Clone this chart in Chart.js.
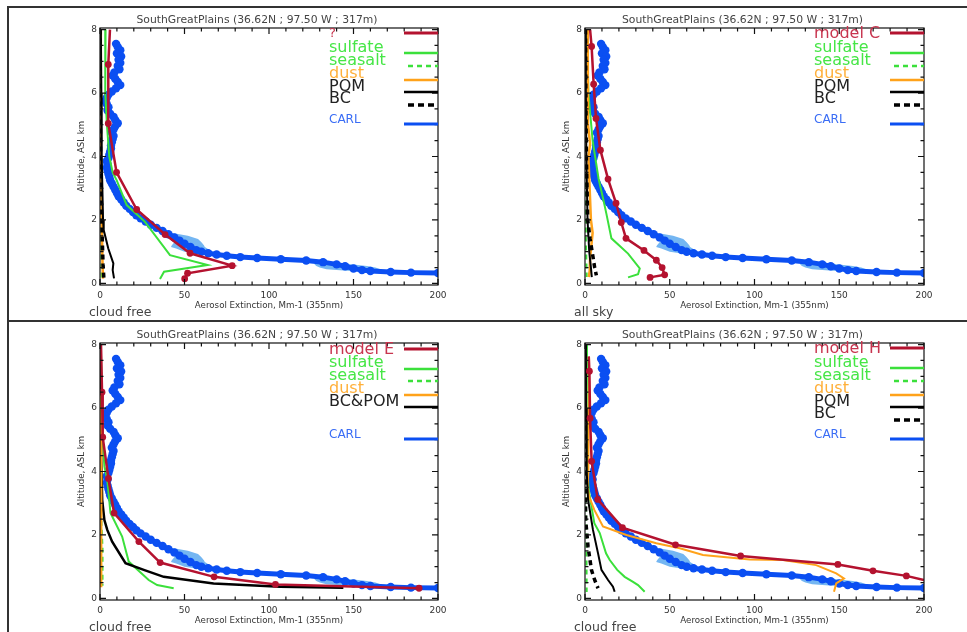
<!DOCTYPE html>
<html><head><meta charset="utf-8">
<script src="https://cdn.jsdelivr.net/npm/chart.js@4.4.1/dist/chart.umd.min.js"></script>
<style>
html,body{margin:0;padding:0;background:#fff;}
body{width:967px;height:632px;position:relative;overflow:hidden;}
canvas{position:absolute;}
.rule{position:absolute;background:#333;}
</style></head><body>
<div class="rule" style="left:7px;top:6px;width:960px;height:2px"></div>
<div class="rule" style="left:7px;top:6px;width:2px;height:626px"></div>
<div class="rule" style="left:7px;top:320px;width:960px;height:2px"></div>
<canvas id="c1" width="474" height="312" style="left:9px;top:8px"></canvas>
<canvas id="c2" width="483" height="312" style="left:484px;top:8px"></canvas>
<canvas id="c3" width="474" height="310" style="left:9px;top:322px"></canvas>
<canvas id="c4" width="483" height="310" style="left:484px;top:322px"></canvas>
<script>
// ---------- text ----------
const panelTitle = 'SouthGreatPlains (36.62N ; 97.50 W ; 317m)';
const xAxisTitle = 'Aerosol Extinction, Mm-1 (355nm)';
const yAxisTitle = 'Altitude, ASL km';
const conditions = ['cloud free', 'all sky', 'cloud free', 'cloud free'];
const xTickValues = [0, 50, 100, 150, 200];
const yTickValues = [0, 2, 4, 6, 8];
const xMinorStep = 10, yMinorStep = 0.5;

const legend1Labels = ['?', 'sulfate', 'seasalt', 'dust', 'POM', 'BC', 'CARL'];
const legend2Labels = ['model C', 'sulfate', 'seasalt', 'dust', 'POM', 'BC', 'CARL'];
const legend3Labels = ['model E', 'sulfate', 'seasalt', 'dust', 'BC&POM', 'CARL'];
const legend4Labels = ['model H', 'sulfate', 'seasalt', 'dust', 'POM', 'BC', 'CARL'];

// ---------- CARL lidar (same in all panels) ----------
const carlAlt = [7.55,7.45,7.35,7.25,7.15,7.05,6.95,6.85,6.75,6.65,6.55,6.45,6.35,6.25,6.15,6.05,5.95,5.85,5.75,5.65,5.55,5.45,5.35,5.25,5.15,5.05,4.95,4.85,4.75,4.65,4.55,4.45,4.35,4.25,4.15,4.05,3.95,3.85,3.75,3.65,3.55,3.45,3.35,3.25,3.15,3.05,2.95,2.85,2.75,2.65,2.55,2.45,2.35,2.25,2.15,2.05,1.95,1.85,1.75,1.65,1.55,1.45,1.35,1.25,1.15,1.05,1.0,0.95,0.91,0.87,0.83,0.8,0.76,0.72,0.67,0.6,0.54,0.47,0.42,0.39,0.36,0.34,0.33];
const carlExt = [9.5,10.5,12.0,10.0,12.5,11.0,12.0,10.5,11.5,8.5,7.5,9.0,10.5,12.0,9.5,7.0,5.0,4.0,3.0,4.0,5.0,4.5,6.0,8.0,9.0,10.5,9.0,8.0,7.0,8.0,7.5,7.0,6.5,6.5,6.0,5.5,5.0,4.0,4.5,4.0,4.5,5.0,5.5,6.0,7.0,8.0,9.0,10.0,11.0,12.5,14.0,15.5,17.5,19.5,21.5,24.0,27.0,30.0,33.5,37.0,40.5,44.0,47.0,50.0,53.5,57.0,60.0,64.0,69.0,75.0,83.0,93.0,107.0,122.0,132.0,140.0,145.0,150.0,155.0,160.0,172.0,184.0,200.0];
const carlBandAlt = [1.6,1.5,1.4,1.3,1.2,1.15,1.1,1.0,0.95,0.9,0.85,0.8,0.75,0.7,0.65,0.6,0.55,0.5,0.45,0.4,0.36];
const carlBandLow = [38,42,44,44,42.5,42,45,50,56,66,76,88,104,120,127,127,128,130,134,146,175];
const carlBandHigh = [42,52,58,60,61.5,62,63.5,65.5,70,76,86,100,118,132,140,150,158,163,166,168,190];

// ---------- panel 1 (?) cloud free ----------
const p1ModelExt = [5.9,4.9,4.9,9.8,21.7,38.5,53.3,78.2,51.8,50.1];
const p1ModelAlt = [8.0,6.9,5.04,3.5,2.33,1.54,0.95,0.56,0.32,0.15];
const p1SulfExt = [3.3,3.1,4.1,5.5,7.5,9.9,15.8,26.6,41.4,63.7,37.9,35.5];
const p1SulfAlt = [8.0,6.0,5.0,4.0,3.5,3.25,2.47,1.94,0.89,0.58,0.37,0.14];
const p1SaltExt = [0.2,0.2,0.4,0.8,1.0];
const p1SaltAlt = [8.0,4.0,2.0,0.6,0.15];
const p1DustExt = [0.3,0.5,1.0,1.5,1.8];
const p1DustAlt = [8.0,4.0,2.0,0.6,0.15];
const p1PomExt = [0.5,0.8,1.0,1.8,2.2,4.9,7.9,7.5,8.3];
const p1PomAlt = [8.0,6.0,4.0,2.0,1.68,1.1,0.63,0.42,0.16];
const p1BcExt = [0.0,0.3,1.0,1.8,2.3];
const p1BcAlt = [8.0,4.0,2.0,0.6,0.15];

// ---------- panel 2 (model C) all sky ----------
const p2ModelExt = [3.0,3.9,5.1,6.5,9.1,13.6,18.3,21.4,24.2,34.8,42.1,45.5,47.0,38.4];
const p2ModelAlt = [8.0,7.47,6.28,5.2,4.2,3.29,2.53,1.92,1.42,1.04,0.73,0.5,0.27,0.19];
const p2SulfExt = [1.2,2.0,4.5,8.0,10.9,12.6,15.6,25.4,32.3,31.3,25.4];
const p2SulfAlt = [8.0,6.0,4.5,3.3,2.62,2.2,1.42,0.94,0.47,0.29,0.19];
const p2SaltExt = [0.0,0.2,0.5,1.0];
const p2SaltAlt = [8.0,4.0,1.5,0.2];
const p2DustExt = [1.6,1.8,3.0,2.0,3.5,4.5,3.0,2.8,2.2];
const p2DustAlt = [8.0,5.0,4.4,4.0,2.0,1.6,0.8,0.4,0.2];
const p2PomExt = [0.3,0.5,0.8,1.5,2.5,3.5,4.0];
const p2PomAlt = [8.0,6.0,4.0,2.0,1.0,0.5,0.2];
const p2BcExt = [0.3,0.5,0.8,1.6,3.0,4.7,5.7,6.7];
const p2BcAlt = [8.0,6.0,4.0,2.0,1.4,0.84,0.5,0.25];

// ---------- panel 3 (model E) cloud free ----------
const p3ModelExt = [0.6,1.2,1.6,5.0,8.3,23.0,35.6,67.5,103.8,188.8];
const p3ModelAlt = [8.0,6.5,5.08,3.78,2.69,1.79,1.13,0.68,0.44,0.32];
const p3SulfExt = [0.5,1.5,2.6,4.3,6.2,13.1,17.0,28.8,33.8,43.6];
const p3SulfAlt = [8.0,5.0,4.16,3.74,2.69,1.95,1.16,0.58,0.42,0.32];
const p3SaltExt = [0.0,0.3,1.5,1.5];
const p3SaltAlt = [5.0,3.0,1.6,0.4];
const p3DustExt = [0.4,0.4];
const p3DustAlt = [6.5,0.35];
const p3BcPomExt = [0.4,0.4,0.6,1.3,2.6,4.3,7.2,15.1,25.9,37.7,67.2,106.6,144.0];
const p3BcPomAlt = [8.0,6.5,4.6,3.1,2.47,2.16,1.79,1.11,0.9,0.68,0.47,0.37,0.34];

// ---------- panel 4 (model H) cloud free ----------
const p4ModelExt = [2.2,2.6,3.0,3.9,7.5,22.1,53.4,91.8,149.2,169.9,189.6,200.0];
const p4ModelAlt = [7.63,7.16,5.68,4.32,3.12,2.23,1.69,1.34,1.07,0.87,0.71,0.58];
const p4SulfExt = [1.2,1.0,1.5,2.2,3.8,5.5,8.7,12.4,14.6,19.0,23.4,28.1,31.3,35.2];
const p4SulfAlt = [8.0,6.0,4.0,3.42,2.9,2.37,2.06,1.42,1.21,0.9,0.68,0.53,0.42,0.21];
const p4SaltExt = [0.0,0.3,0.8,1.0];
const p4SaltAlt = [8.0,4.0,2.0,0.2];
const p4DustExt = [2.4,2.2,2.0,1.6,2.4,5.5,10.6,24.4,42.1,55.9,69.6,97.2,116.7,136.4,148.2,152.8,148.2,146.9];
const p4DustAlt = [7.6,6.0,4.0,3.5,3.22,2.79,2.27,2.0,1.74,1.58,1.37,1.23,1.21,1.05,0.79,0.63,0.47,0.21];
const p4PomExt = [0.5,0.6,1.0,1.8,4.7,7.7,9.7,13.6,16.5,17.5];
const p4PomAlt = [8.0,6.0,4.0,3.11,2.16,1.42,0.9,0.58,0.37,0.21];
const p4BcExt = [0.0,0.1,0.2,0.4,1.8,3.8,5.7,7.7];
const p4BcAlt = [8.0,6.0,4.0,2.48,1.63,0.9,0.58,0.32];

// ---------- styles ----------
const FONT = '"DejaVu Sans", "Liberation Sans", sans-serif';
const RED = '#b4122f', GREEN = '#3be03b', ORANGE = '#ffa21a', BLACK = '#000000', BLUE = '#0b4ff2', BAND = '#74b6f2';
const TXT = {red:'#c8354f', green:'#46e646', orange:'#ffb03a', black:'#222222', blue:'#3a6df5'};

function pts(xs, ys){ return xs.map((v,i)=>({x:v, y:ys[i]})); }
function series(xs, ys, color, width, dash, markerR, skip){
  skip = skip || [];
  return {data:pts(xs,ys), showLine:true, borderColor:color, backgroundColor:color,
    borderWidth:width, borderDash:dash||[], fill:false,
    pointRadius: c => (markerR && !skip.includes(c.dataIndex) && !(skip.includes(-1) && c.dataIndex===xs.length-1)) ? markerR : 0,
    pointBorderWidth:0, pointBackgroundColor:color, pointHoverRadius:0};
}
function carlSets(){
  const poly = carlBandLow.map((v,i)=>({x:v, y:carlBandAlt[i]}))
    .concat(carlBandHigh.map((v,i)=>({x:v, y:carlBandAlt[i]})).reverse());
  poly.push({x:carlBandLow[0], y:carlBandAlt[0]});
  return [
    series(carlExt, carlAlt, BLUE, 5, null, 4.2),
    {data:poly, showLine:true, borderWidth:0, borderColor:BAND, backgroundColor:BAND, fill:'shape', pointRadius:0, tension:0}
  ];
}

const frameTicks = {
  id:'frameTicks',
  afterDraw(chart, args, opts){
    const {ctx, chartArea:a, scales:{x, y}} = chart;
    ctx.save();
    ctx.strokeStyle = '#111'; ctx.lineWidth = 1.2;
    ctx.strokeRect(a.left, a.top, a.right-a.left, a.bottom-a.top);
    ctx.beginPath();
    for (let v = x.min; v <= x.max + 1e-9; v += xMinorStep){
      const px = x.getPixelForValue(v);
      const len = (Math.abs(v % 50) < 1e-6) ? 6 : 3.5;
      ctx.moveTo(px, a.bottom); ctx.lineTo(px, a.bottom - len);
      ctx.moveTo(px, a.top); ctx.lineTo(px, a.top + len);
    }
    for (let v = 0; v <= 8 + 1e-9; v += yMinorStep){
      const py = y.getPixelForValue(v);
      const len = (Math.abs(v % 2) < 1e-6) ? 6 : 3.5;
      ctx.moveTo(a.left, py); ctx.lineTo(a.left + len, py);
      ctx.moveTo(a.right, py); ctx.lineTo(a.right - len, py);
    }
    ctx.stroke();
    // legend
    const lg = opts.items || [];
    ctx.textBaseline = 'middle'; ctx.textAlign = 'left';
    lg.forEach(it => {
      ctx.font = (it.size || 16) + 'px ' + FONT;
      ctx.fillStyle = it.text;
      ctx.fillText(it.label, a.left + 229, a.top + it.ty);
      ctx.beginPath();
      ctx.strokeStyle = it.color; ctx.lineWidth = it.w || 2.5;
      ctx.setLineDash(it.dash || []);
      ctx.moveTo(a.right - (it.dash ? 30 : 34), a.top + it.ly); ctx.lineTo(a.right, a.top + it.ly);
      ctx.stroke();
      ctx.setLineDash([]);
    });
    // condition label
    ctx.font = '12.5px ' + FONT; ctx.fillStyle = '#444';
    ctx.fillText(opts.cond, a.left - 11, a.bottom + 27.5);
    ctx.restore();
  }
};

function legendItems(labels){
  const ty7 = [6, 20, 33, 46, 59, 71, 92], ly7 = [5, 25, 38, 52, 64, 77, 96];
  const ty6 = [7, 20, 33, 46, 59, 92], ly6 = [6, 26, 38, 52, 64, 96];
  const st7 = [
    {text:TXT.red, color:RED, w:3},
    {text:TXT.green, color:GREEN},
    {text:TXT.green, color:GREEN, dash:[5,4]},
    {text:TXT.orange, color:ORANGE},
    {text:TXT.black, color:BLACK},
    {text:TXT.black, color:BLACK, dash:[6,4], w:3.5},
    {text:TXT.blue, color:BLUE, w:3, size:12}
  ];
  const st6 = [st7[0], st7[1], st7[2], st7[3], st7[4], st7[6]];
  const st = labels.length === 7 ? st7 : st6;
  const ty = labels.length === 7 ? ty7 : ty6;
  const ly = labels.length === 7 ? ly7 : ly6;
  return labels.map((l,i)=>Object.assign({label:l, ty:ty[i], ly:ly[i]}, st[i], (l==='?')?{size:13}:{}));
}

function makeChart(id, canvasBox, plot, datasets, legendLabels, cond){
  const YW = 24, XH = 26, TFS = 10.8, TPB = 1.8;
  const titleH = TFS * 1.2 + TPB;
  new Chart(document.getElementById(id), {
    type:'scatter',
    data:{datasets},
    options:{
      responsive:false, animation:false, devicePixelRatio:1,
      layout:{padding:{
        left: plot.L - canvasBox.left - YW,
        right: canvasBox.left + canvasBox.w - plot.R,
        top: plot.T - canvasBox.top - titleH,
        bottom: canvasBox.top + canvasBox.h - (plot.B + XH)}},
      plugins:{
        legend:{display:false}, tooltip:{enabled:false},
        title:{display:true, text:panelTitle, color:'#444', font:{family:FONT, size:TFS, weight:'normal'}, padding:{top:0, bottom:TPB}},
        frameTicks:{items:legendItems(legendLabels), cond}
      },
      scales:{
        x:{type:'linear', min:0, max:200,
          afterBuildTicks:s=>{ s.ticks = xTickValues.map(v=>({value:v})); },
          afterFit:s=>{ s.height = XH; },
          grid:{display:false, drawTicks:false}, border:{display:false},
          ticks:{color:'#333', font:{family:FONT, size:9}, padding:5, maxRotation:0, autoSkip:false},
          title:{display:true, text:xAxisTitle, color:'#333', font:{family:FONT, size:8.7}, padding:{top:0, bottom:0}}},
        y:{type:'linear', min:-0.05, max:8.05,
          afterBuildTicks:s=>{ s.ticks = yTickValues.map(v=>({value:v})); },
          afterFit:s=>{ s.width = YW; },
          grid:{display:false, drawTicks:false}, border:{display:false},
          ticks:{color:'#333', font:{family:FONT, size:9}, padding:3, autoSkip:false},
          title:{display:true, text:yAxisTitle, color:'#333', font:{family:FONT, size:8.6}, padding:{top:1, bottom:0}}}
      }
    },
    plugins:[frameTicks]
  });
}

const DASH_SALT = [5,4], DASH_BC = [5,4];

makeChart('c1', {left:9, top:8, w:474, h:312}, {L:100, R:438, T:28, B:285}, [
  series(p1ModelExt, p1ModelAlt, RED, 2.5, null, 3.4, [0]),
  series(p1BcExt, p1BcAlt, BLACK, 3.5, DASH_BC),
  series(p1PomExt, p1PomAlt, BLACK, 2),
  series(p1DustExt, p1DustAlt, ORANGE, 2.5),
  series(p1SaltExt, p1SaltAlt, GREEN, 2, DASH_SALT),
  series(p1SulfExt, p1SulfAlt, GREEN, 2),
  ...carlSets()
], legend1Labels, conditions[0]);

makeChart('c2', {left:484, top:8, w:483, h:312}, {L:585, R:924, T:28, B:285}, [
  series(p2ModelExt, p2ModelAlt, RED, 2.5, null, 3.4, [0]),
  series(p2BcExt, p2BcAlt, BLACK, 3.5, DASH_BC),
  series(p2PomExt, p2PomAlt, BLACK, 2),
  series(p2DustExt, p2DustAlt, ORANGE, 2.5),
  series(p2SaltExt, p2SaltAlt, GREEN, 2, DASH_SALT),
  series(p2SulfExt, p2SulfAlt, GREEN, 2),
  ...carlSets()
], legend2Labels, conditions[1]);

makeChart('c3', {left:9, top:322, w:474, h:310}, {L:100, R:438, T:343, B:600}, [
  series(p3ModelExt, p3ModelAlt, RED, 2.5, null, 3.4, [0]),
  series(p3DustExt, p3DustAlt, ORANGE, 3.5),
  series(p3BcPomExt, p3BcPomAlt, BLACK, 2.5),
  series(p3SaltExt, p3SaltAlt, GREEN, 2, DASH_SALT),
  series(p3SulfExt, p3SulfAlt, GREEN, 2),
  ...carlSets()
], legend3Labels, conditions[2]);

makeChart('c4', {left:484, top:322, w:483, h:310}, {L:585, R:924, T:343, B:600}, [
  series(p4ModelExt, p4ModelAlt, RED, 2.5, null, 3.4, [0, -1]),
  series(p4BcExt, p4BcAlt, BLACK, 3.5, DASH_BC),
  series(p4PomExt, p4PomAlt, BLACK, 2),
  series(p4DustExt, p4DustAlt, ORANGE, 2),
  series(p4SaltExt, p4SaltAlt, GREEN, 2, DASH_SALT),
  series(p4SulfExt, p4SulfAlt, GREEN, 2),
  ...carlSets()
], legend4Labels, conditions[3]);
</script>
</body></html>
